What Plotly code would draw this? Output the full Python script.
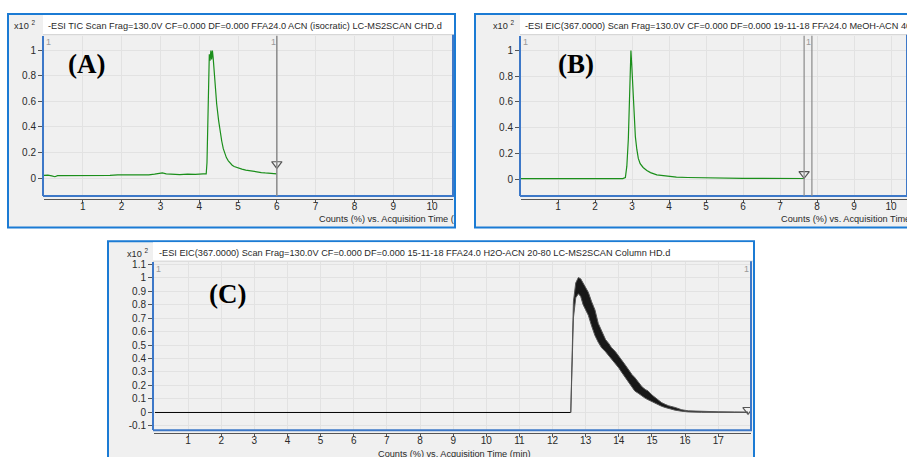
import plotly.graph_objects as go

# ---------------- data ----------------
# (A) TIC, ACN isocratic
a_time = [0.00, 0.10, 0.20, 0.28, 0.35, 0.50, 0.70, 0.90, 1.10, 1.30, 1.50, 1.70, 1.90, 2.10, 2.30,
          2.50, 2.70, 2.85, 2.95, 3.05, 3.15, 3.30, 3.50, 3.70, 3.90, 4.10, 4.18, 4.20, 4.22, 4.24,
          4.26, 4.28, 4.30, 4.32, 4.34, 4.36, 4.38, 4.41, 4.45, 4.50, 4.54, 4.58, 4.62, 4.66, 4.70,
          4.75, 4.80, 4.85, 4.90, 5.00, 5.10, 5.20, 5.30, 5.40, 5.50, 5.60, 5.70, 5.80, 5.90, 6.00]
a_counts = [0.020, 0.022, 0.017, 0.010, 0.018, 0.018, 0.020, 0.017, 0.020, 0.021, 0.022, 0.021, 0.024, 0.023, 0.024,
            0.022, 0.025, 0.030, 0.038, 0.040, 0.033, 0.028, 0.027, 0.030, 0.028, 0.032, 0.032, 0.12, 0.50, 0.85,
            0.97, 0.92, 1.00, 0.93, 1.00, 0.94, 0.86, 0.72, 0.58, 0.45, 0.36, 0.29, 0.23, 0.19, 0.16,
            0.135, 0.115, 0.10, 0.09, 0.078, 0.070, 0.062, 0.056, 0.051, 0.047, 0.043, 0.040, 0.036, 0.034, 0.033]
a_cursor = [6.0]
a_marker_y = [0.11]

# (B) EIC 367, MeOH-ACN 40.60
b_time = [0.00, 0.50, 1.00, 1.50, 2.00, 2.40, 2.50, 2.60, 2.75, 2.82, 2.86, 2.90, 2.93, 2.95, 2.97, 2.99,
          3.02, 3.04, 3.06, 3.09, 3.13, 3.17, 3.22, 3.30, 3.40, 3.50, 3.67, 3.85, 4.00, 4.20, 4.50, 5.00,
          5.50, 6.00, 6.50, 7.00, 7.65]
b_counts = [0.003, 0.003, 0.002, 0.002, 0.002, 0.003, 0.006, 0.003, 0.003, 0.012, 0.10, 0.31, 0.55, 0.73, 1.00, 0.90,
            0.75, 0.60, 0.47, 0.33, 0.23, 0.16, 0.12, 0.09, 0.067, 0.05, 0.033, 0.025, 0.02, 0.015, 0.012, 0.008,
            0.006, 0.005, 0.005, 0.004, 0.004]
b_cursor = [7.65, 7.86]
b_marker_y = [0.04]

# (C) EIC 367, H2O-ACN 20-80 (noisy band given by upper / lower envelope)
c_base_time = [0.00, 5.95, 6.00, 6.05, 6.40, 6.45, 6.70, 6.75, 7.40, 7.45, 8.60, 8.62, 12.55]
c_base_counts = [0.0, 0.0, 0.005, 0.0, 0.0, 0.005, 0.0, 0.005, 0.0, 0.004, 0.0, 0.004, 0.0]
c_time = [12.55, 12.58, 12.63, 12.70, 12.78, 12.85, 12.92, 13.00, 13.08, 13.18, 13.28, 13.38, 13.48,
          13.60, 13.70, 13.78, 13.90, 14.00, 14.08, 14.20, 14.30, 14.40, 14.48, 14.60, 14.70, 14.80,
          14.88, 15.00, 15.10, 15.20, 15.29, 15.40, 15.50, 15.70, 15.90, 16.10, 16.50, 17.00, 17.50, 17.90]
c_upper = [0.0, 0.35, 0.82, 0.96, 1.00, 0.99, 0.96, 0.93, 0.89, 0.82, 0.76, 0.66, 0.60,
           0.54, 0.51, 0.48, 0.45, 0.42, 0.39, 0.35, 0.31, 0.28, 0.26, 0.22, 0.19, 0.17,
           0.16, 0.13, 0.11, 0.09, 0.073, 0.06, 0.05, 0.037, 0.02, 0.012, 0.007, 0.005, 0.004, 0.003]
c_lower = [0.0, 0.25, 0.70, 0.85, 0.88, 0.86, 0.80, 0.76, 0.72, 0.64, 0.57, 0.52, 0.48,
           0.45, 0.42, 0.40, 0.36, 0.33, 0.30, 0.26, 0.22, 0.19, 0.16, 0.14, 0.12, 0.105,
           0.095, 0.08, 0.065, 0.055, 0.046, 0.037, 0.03, 0.017, 0.009, 0.004, 0.001, 0.0, 0.0, 0.0]
c_cursor_marker_x = [17.9]
c_marker_y = [0.02]

a_xticks = list(range(1, 11))
b_xticks = list(range(1, 11))
c_xticks = list(range(1, 18))
ab_yticks = [0, 0.2, 0.4, 0.6, 0.8, 1]
ab_ytext = ["0", "0.2", "0.4", "0.6", "0.8", "1"]
c_yticks = [-0.1, 0, 0.1, 0.2, 0.3, 0.4, 0.5, 0.6, 0.7, 0.8, 0.9, 1.0, 1.1]
c_ytext = ["-0.1", "0", "0.1", "0.2", "0.3", "0.4", "0.5", "0.6", "0.7", "0.8", "0.9", "1", "1.1"]

title_a = "-ESI TIC Scan Frag=130.0V CF=0.000 DF=0.000 FFA24.0 ACN (isocratic) LC-MS2SCAN CHD.d"
title_b = "-ESI EIC(367.0000) Scan Frag=130.0V CF=0.000 DF=0.000 19-11-18 FFA24.0 MeOH-ACN 40.60 isocratic"
title_c = "-ESI EIC(367.0000) Scan Frag=130.0V CF=0.000 DF=0.000 15-11-18 FFA24.0 H2O-ACN 20-80 LC-MS2SCAN Column HD.d"
xlab_a = "Counts (%) vs. Acquisition Time ("
xlab_b = "Counts (%) vs. Acquisition Time"
xlab_c = "Counts (%) vs. Acquisition Time (min)"

# ---------------- layout helpers ----------------
W, H = 907, 457
def px(x): return x / W
def py(y): return 1 - y / H

FONT = "Liberation Sans, Arial, sans-serif"
TXT = "#2a2a2a"
FRAME_BLUE = "#1b7bd4"
PLOT_BLUE = "#3d78c8"
GRID = "#e2e2e2"
GREEN = "#1b8f1b"
HEAD = 9.2

panels = {
    "A": dict(frame=(8, 10, 455, 226), plot=(44, 32, 453, 194), axis_y=197),
    "B": dict(frame=(475, 10, 930, 226), plot=(521, 32, 907, 194), axis_y=197),
    "C": dict(frame=(108, 240, 754, 480), plot=(154, 261, 751, 431), axis_y=434),
}

fig = go.Figure()
shapes = []
annotations = []

for key, p in panels.items():
    fx0, fy0, fx1, fy1 = p["frame"]
    x0, y0, x1, y1 = p["plot"]
    shapes.append(dict(type="rect", xref="paper", yref="paper", layer="below",
                       x0=px(fx0), x1=px(fx1), y0=py(fy1), y1=py(fy0),
                       fillcolor="#f0f0f0", line=dict(color=FRAME_BLUE, width=2)))
    shapes.append(dict(type="rect", xref="paper", yref="paper", layer="below",
                       x0=px(x0 - 1), x1=px(fx1 - 1), y0=py(y0 - 1), y1=py(fy0 + 1),
                       fillcolor="white", line=dict(width=0)))
    shapes.append(dict(type="line", xref="paper", yref="paper", layer="below",
                       x0=px(x0 - 1), x1=px(fx1 - 1), y0=py(y0 - 1), y1=py(y0 - 1),
                       line=dict(color="#d0d0d0", width=1)))
    shapes.append(dict(type="line", xref="paper", yref="paper", layer="above",
                       x0=px(x0 - 1), x1=px(x1 + 1), y0=py(y1), y1=py(y1),
                       line=dict(color=PLOT_BLUE, width=2)))
    shapes.append(dict(type="line", xref="paper", yref="paper", layer="above",
                       x0=px(x1), x1=px(x1), y0=py(y1), y1=py(y0 - 1),
                       line=dict(color=PLOT_BLUE, width=2)))

layout_axes = {}
specs = [
    ("A", "x", "y", [0, 10.54], [-0.14, 1.116], a_xticks, ab_yticks, ab_ytext),
    ("B", "x2", "y2", [0, 10.43], [-0.131, 1.115], b_xticks, ab_yticks, ab_ytext),
    ("C", "x3", "y3", [-0.03, 17.99], [-0.132, 1.114], c_xticks, c_yticks, c_ytext),
]
for key, xa, ya, xr, yr, xt, yt, ytt in specs:
    p = panels[key]
    x0, y0, x1, y1 = p["plot"]
    xname = "xaxis" if xa == "x" else "xaxis" + xa[1:]
    yname = "yaxis" if ya == "y" else "yaxis" + ya[1:]
    layout_axes[xname] = dict(domain=[px(x0), min(1.0, px(x1))], range=xr, anchor="free",
                              position=py(p["axis_y"]), tickvals=xt, ticktext=[str(v) for v in xt],
                              ticks="outside", ticklen=3, tickcolor="#555", showline=True,
                              linecolor="#555", linewidth=1, showgrid=True, gridcolor=GRID,
                              gridwidth=1, zeroline=False, fixedrange=True, ticklabelstandoff=-5,
                              tickfont=dict(family=FONT, size=10, color=TXT))
    layout_axes[yname] = dict(domain=[py(y1), py(y0)], range=yr, anchor=xa, tickvals=yt,
                              ticktext=ytt, ticks="outside", ticklen=4, tickcolor="#555",
                              showline=True, linecolor=PLOT_BLUE, linewidth=2, showgrid=True,
                              gridcolor=GRID, gridwidth=1, zeroline=False, fixedrange=True,
                              tickfont=dict(family=FONT, size=10, color=TXT))

# ---------------- traces ----------------
fig.add_trace(go.Scatter(x=a_time, y=a_counts, mode="lines", line=dict(color=GREEN, width=1.2),
                         xaxis="x", yaxis="y", hoverinfo="skip"))
fig.add_trace(go.Scatter(x=a_cursor, y=a_marker_y, mode="markers", xaxis="x", yaxis="y",
                         marker=dict(symbol="triangle-down-open", size=9, color="#555",
                                     line=dict(width=1.2)), hoverinfo="skip"))
fig.add_trace(go.Scatter(x=b_time, y=b_counts, mode="lines", line=dict(color=GREEN, width=1.2),
                         xaxis="x2", yaxis="y2", hoverinfo="skip"))
fig.add_trace(go.Scatter(x=b_cursor[:1], y=b_marker_y, mode="markers", xaxis="x2", yaxis="y2",
                         marker=dict(symbol="triangle-down-open", size=9, color="#555",
                                     line=dict(width=1.2)), hoverinfo="skip"))
fig.add_trace(go.Scatter(x=c_base_time, y=c_base_counts, mode="lines",
                         line=dict(color="black", width=1), xaxis="x3", yaxis="y3", hoverinfo="skip"))
fig.add_trace(go.Scatter(x=c_time, y=c_lower, mode="lines", line=dict(color="#555", width=1),
                         xaxis="x3", yaxis="y3", hoverinfo="skip"))
fig.add_trace(go.Scatter(x=c_time, y=c_upper, mode="lines", line=dict(color="#555", width=1),
                         fill="tonexty", fillcolor="rgba(0,0,0,0.9)",
                         xaxis="x3", yaxis="y3", hoverinfo="skip"))
fig.add_trace(go.Scatter(x=c_cursor_marker_x, y=c_marker_y, mode="markers", xaxis="x3", yaxis="y3",
                         marker=dict(symbol="triangle-down-open", size=9, color="#555",
                                     line=dict(width=1.2)), hoverinfo="skip"))

for c in a_cursor:
    shapes.append(dict(type="line", xref="x", yref="y domain", x0=c, x1=c, y0=0, y1=1,
                       line=dict(color="#8a8a8a", width=1.5)))
for c in b_cursor:
    shapes.append(dict(type="line", xref="x2", yref="y2 domain", x0=c, x1=c, y0=0, y1=1,
                       line=dict(color="#8a8a8a", width=1.2)))

# ---------------- text ----------------
def ann(x, y, text, size=10, color=TXT, xanchor="left", family=FONT, yanchor="middle"):
    annotations.append(dict(xref="paper", yref="paper", x=px(x), y=py(y), text=text,
                            showarrow=False, xanchor=xanchor, yanchor=yanchor,
                            font=dict(family=family, size=size, color=color)))

ann(46, 22, title_a, size=HEAD)
ann(523, 22, title_b, size=HEAD)
ann(157, 252, title_c, size=HEAD)
for xx, yy in [(37, 21), (516, 21), (150, 252)]:
    ann(xx, yy, "x10 <sup>2</sup>", size=HEAD, xanchor="right")

ann(317, 217, xlab_a, size=HEAD)
ann(779, 217, xlab_b, size=HEAD)
ann(376, 455, xlab_c, size=HEAD)

serif = "Liberation Serif, Times New Roman, serif"
ann(86, 61, "<b>(A)</b>", size=27, color="black", xanchor="center", family=serif)
ann(576, 61, "<b>(B)</b>", size=27, color="black", xanchor="center", family=serif)
ann(227, 293, "<b>(C)</b>", size=27, color="black", xanchor="center", family=serif)

for xx, yy in [(48, 38), (273, 38), (525, 38), (808, 38), (158, 268), (746, 268)]:
    ann(xx, yy, "1", size=9, color="#9a9a9a", xanchor="center")

fig.update_layout(width=W, height=H, margin=dict(l=0, r=0, t=0, b=0),
                  paper_bgcolor="white", plot_bgcolor="white", showlegend=False,
                  shapes=shapes, annotations=annotations, **layout_axes)

fig.write_html("out.html")
